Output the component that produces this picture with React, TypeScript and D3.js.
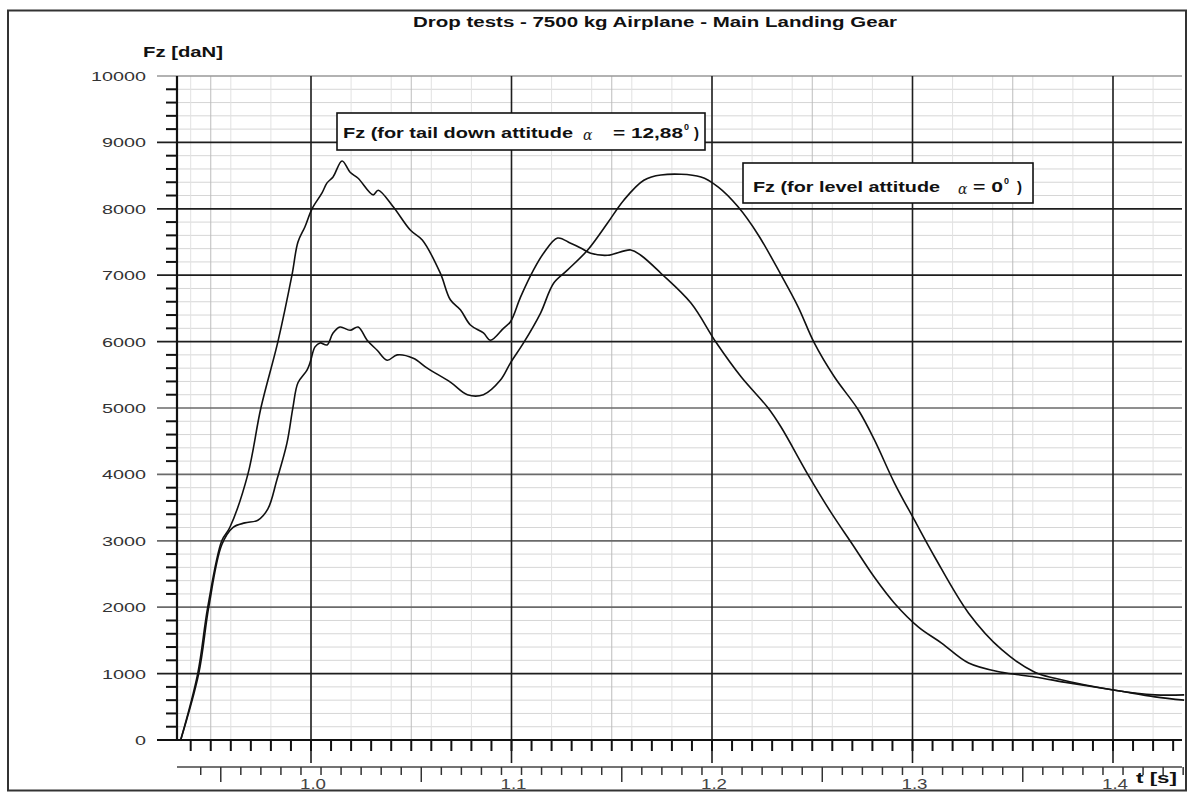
import React from "react";
import * as d3 from "d3";

// ---- Data ----
const tailDownT = [0.935, 0.9435, 0.9485, 0.9555, 0.9595, 0.9685, 0.975, 0.9835, 0.9905, 0.9935, 0.997, 1.0005, 1.0055, 1.008, 1.011, 1.0155, 1.0195, 1.0235, 1.031, 1.0335, 1.041, 1.0495, 1.0555, 1.0645, 1.0695, 1.0745, 1.0795, 1.086, 1.0895, 1.096, 1.0995, 1.1045, 1.111, 1.116, 1.123, 1.1295, 1.1345, 1.1395, 1.148, 1.1595, 1.1645, 1.1745, 1.1895, 1.202, 1.2145, 1.228, 1.2345, 1.248, 1.2595, 1.2695, 1.281, 1.291, 1.303, 1.3145, 1.328, 1.3445, 1.361, 1.378, 1.401, 1.421, 1.4355];
const tailDownF = [0, 1000, 2000, 3000, 3200, 4000, 5000, 6000, 7000, 7500, 7730, 8000, 8240, 8390, 8480, 8720, 8550, 8460, 8210, 8280, 8030, 7680, 7530, 7030, 6630, 6480, 6250, 6130, 6020, 6200, 6300, 6670, 7080, 7330, 7560, 7480, 7410, 7330, 7300, 7380, 7300, 7030, 6580, 5990, 5470, 5000, 4710, 3990, 3420, 2970, 2450, 2060, 1700, 1460, 1160, 1020, 950, 860, 750, 650, 600];

const levelT = [0.935, 0.944, 0.949, 0.9555, 0.961, 0.967, 0.9735, 0.9785, 0.983, 0.988, 0.991, 0.9935, 0.998, 0.9995, 1.002, 1.0045, 1.008, 1.011, 1.0145, 1.0195, 1.0235, 1.028, 1.033, 1.038, 1.043, 1.051, 1.058, 1.0695, 1.078, 1.086, 1.0945, 1.0995, 1.106, 1.1145, 1.121, 1.128, 1.138, 1.148, 1.156, 1.166, 1.1745, 1.1945, 1.203, 1.213, 1.223, 1.2345, 1.243, 1.251, 1.261, 1.273, 1.281, 1.291, 1.301, 1.311, 1.328, 1.3445, 1.361, 1.371, 1.401, 1.421, 1.4355];
const levelF = [0, 1000, 2000, 2940, 3200, 3270, 3310, 3480, 3920, 4470, 5010, 5380, 5570, 5680, 5920, 5980, 5950, 6130, 6220, 6170, 6220, 6020, 5870, 5720, 5800, 5750, 5600, 5390, 5200, 5200, 5420, 5680, 5980, 6430, 6880, 7080, 7380, 7790, 8130, 8430, 8510, 8480, 8330, 8030, 7610, 7000, 6520, 5980, 5470, 4970, 4520, 3870, 3310, 2760, 1910, 1360, 1020, 930, 750, 680, 680];

const yTickValues = [0, 1000, 2000, 3000, 4000, 5000, 6000, 7000, 8000, 9000, 10000];
const xTickValues = [1.0, 1.1, 1.2, 1.3, 1.4];
const xTickLabels = ["1.0", "1.1", "1.2", "1.3", "1.4"];

const title = "Drop tests - 7500 kg Airplane - Main Landing Gear";
const yTitle = "Fz [daN]";
const xTitle = "t [s]";

export default function App() {
  const W = 1192, H = 794;
  const x = d3.scaleLinear().domain([1.0, 1.4]).range([311, 1113]);
  const y = d3.scaleLinear().domain([0, 10000]).range([740, 76]);
  const xLeft = 177, xRight = 1182;
  const tMin = x.invert(xLeft), tMax = x.invert(xRight);

  const line = d3
    .line<[number, number]>()
    .x((d) => x(d[0]))
    .y((d) => y(d[1]))
    .curve(d3.curveCatmullRom.alpha(0.5));
  const tailPts = tailDownT.map((t, i) => [t, tailDownF[i]] as [number, number]);
  const levelPts = levelT.map((t, i) => [t, levelF[i]] as [number, number]);

  const minorY = d3.range(200, 10000, 200).filter((v) => v % 1000 !== 0);
  const lightV = d3.range(0.94, 1.435, 0.02);
  const midV = d3.range(0.95, 1.435, 0.05).filter((t) => Math.abs(t * 10 - Math.round(t * 10)) > 0.01);
  const row1Ticks = d3.range(0.94, 1.4351, 0.01);
  const row2Ticks = d3.range(0.945, 1.4351, 0.01);
  const font = "'Liberation Sans', Arial, sans-serif";

  const darkLine = (v: number) => v === 1000 || (v >= 6000 && v <= 9000);

  return (
    <svg width={W} height={H} style={{ position: "absolute", left: 0, top: 0, background: "#fff" }} fontFamily={font}>
      <rect x={0} y={0} width={W} height={H} fill="#fff" />
      {/* outer frame */}
      <rect x={8} y={10.5} width={1178} height={780} fill="none" stroke="#333" strokeWidth={2} />

      {/* light grid */}
      {minorY.map((v) => (
        <line key={"my" + v} x1={xLeft} x2={xRight} y1={y(v)} y2={y(v)} stroke="#d6d6d6" strokeWidth={1} />
      ))}
      {lightV.map((t) => (
        <line key={"lv" + t} x1={x(t)} x2={x(t)} y1={y(10000)} y2={y(0)} stroke="#e2e2e2" strokeWidth={1} />
      ))}
      {midV.map((t) => (
        <line key={"mv" + t} x1={x(t)} x2={x(t)} y1={y(10000)} y2={y(0)} stroke="#bdbdbd" strokeWidth={1} />
      ))}

      {/* major horizontal grid */}
      {yTickValues.filter((v) => v > 0).map((v) => (
        <line
          key={"gy" + v}
          x1={157}
          x2={xRight}
          y1={y(v)}
          y2={y(v)}
          stroke={v === 10000 ? "#999" : darkLine(v) ? "#1e1e1e" : "#6a6a6a"}
          strokeWidth={1.7}
        />
      ))}
      {/* major vertical grid */}
      {xTickValues.map((t) => (
        <line key={"gx" + t} x1={x(t)} x2={x(t)} y1={y(10000)} y2={763} stroke="#1e1e1e" strokeWidth={1.6} />
      ))}

      {/* y axis */}
      <line x1={xLeft} x2={xLeft} y1={y(10000)} y2={y(0)} stroke="#111" strokeWidth={2.2} />
      {minorY.map((v) => (
        <line key={"ty" + v} x1={166} x2={xLeft} y1={y(v)} y2={y(v)} stroke="#111" strokeWidth={2} />
      ))}
      {/* zero line */}
      <line x1={157} x2={xRight} y1={y(0)} y2={y(0)} stroke="#111" strokeWidth={2} />
      {row1Ticks.map((t) => (
        <line key={"t1" + t} x1={x(t)} x2={x(t)} y1={y(0)} y2={751} stroke="#111" strokeWidth={2} />
      ))}
      {/* second tick row */}
      <line x1={xLeft} x2={xRight} y1={767} y2={767} stroke="#444" strokeWidth={1.6} />
      {row2Ticks.map((t, i) => (
        <line
          key={"t2" + t}
          x1={x(t)}
          x2={x(t)}
          y1={767}
          y2={(i - 1) % 10 === 0 ? 782 : 775}
          stroke="#333"
          strokeWidth={1.5}
        />
      ))}

      {/* y labels */}
      {yTickValues.map((v) => {
        const len = String(v).length * 11;
        return (
          <text key={"yl" + v} x={146 - len} y={y(v) + 5} fontSize={13} fill="#333" textLength={len} lengthAdjust="spacingAndGlyphs">
            {v}
          </text>
        );
      })}
      {/* x labels */}
      {xTickValues.map((t, i) => (
        <text key={"xl" + t} x={x(t) - 11} y={789} fontSize={14} fill="#444" textLength={26} lengthAdjust="spacingAndGlyphs">
          {xTickLabels[i]}
        </text>
      ))}

      {/* curves */}
      <path d={line(levelPts) || ""} fill="none" stroke="#111" strokeWidth={1.6} strokeLinejoin="round" />
      <path d={line(tailPts) || ""} fill="none" stroke="#111" strokeWidth={1.6} strokeLinejoin="round" />

      {/* titles */}
      <text x={413} y={27} fontSize={14} fontWeight="bold" fill="#111" textLength={484} lengthAdjust="spacingAndGlyphs">
        {title}
      </text>
      <text x={143} y={57} fontSize={14} fontWeight="bold" fill="#111" textLength={80} lengthAdjust="spacingAndGlyphs">
        {yTitle}
      </text>
      <text x={1136} y={783} fontSize={15} fontWeight="bold" fill="#111" textLength={41} lengthAdjust="spacingAndGlyphs">
        {xTitle}
      </text>

      {/* label box: tail down */}
      <rect x={337} y={113} width={368} height={37} fill="#fff" stroke="#111" strokeWidth={1.6} />
      <text x={343} y={138} fontSize={15} fontWeight="bold" fill="#111" textLength={230} lengthAdjust="spacingAndGlyphs">
        Fz (for tail down attitude
      </text>
      <text x={583} y={140} fontSize={14} fontStyle="italic" fill="#222" fontFamily="'DejaVu Serif', serif">α</text>
      <text x={613} y={138} fontSize={15} fontWeight="bold" fill="#111" textLength={70} lengthAdjust="spacingAndGlyphs">
        = 12,88
      </text>
      <text x={684} y={130} fontSize={9} fontWeight="bold" fill="#111">0</text>
      <text x={694} y={138} fontSize={15} fontWeight="bold" fill="#111">)</text>

      {/* label box: level */}
      <rect x={743} y={163} width={290} height={40} fill="#fff" stroke="#111" strokeWidth={1.6} />
      <text x={753} y={192} fontSize={15} fontWeight="bold" fill="#111" textLength={187} lengthAdjust="spacingAndGlyphs">
        Fz (for level attitude
      </text>
      <text x={958} y={194} fontSize={14} fontStyle="italic" fill="#222" fontFamily="'DejaVu Serif', serif">α</text>
      <text x={973} y={192} fontSize={15} fontWeight="bold" fill="#111" textLength={30} lengthAdjust="spacingAndGlyphs">
        = 0
      </text>
      <text x={1004} y={184} fontSize={9} fontWeight="bold" fill="#111">0</text>
      <text x={1017} y={192} fontSize={15} fontWeight="bold" fill="#111">)</text>
    </svg>
  );
}
